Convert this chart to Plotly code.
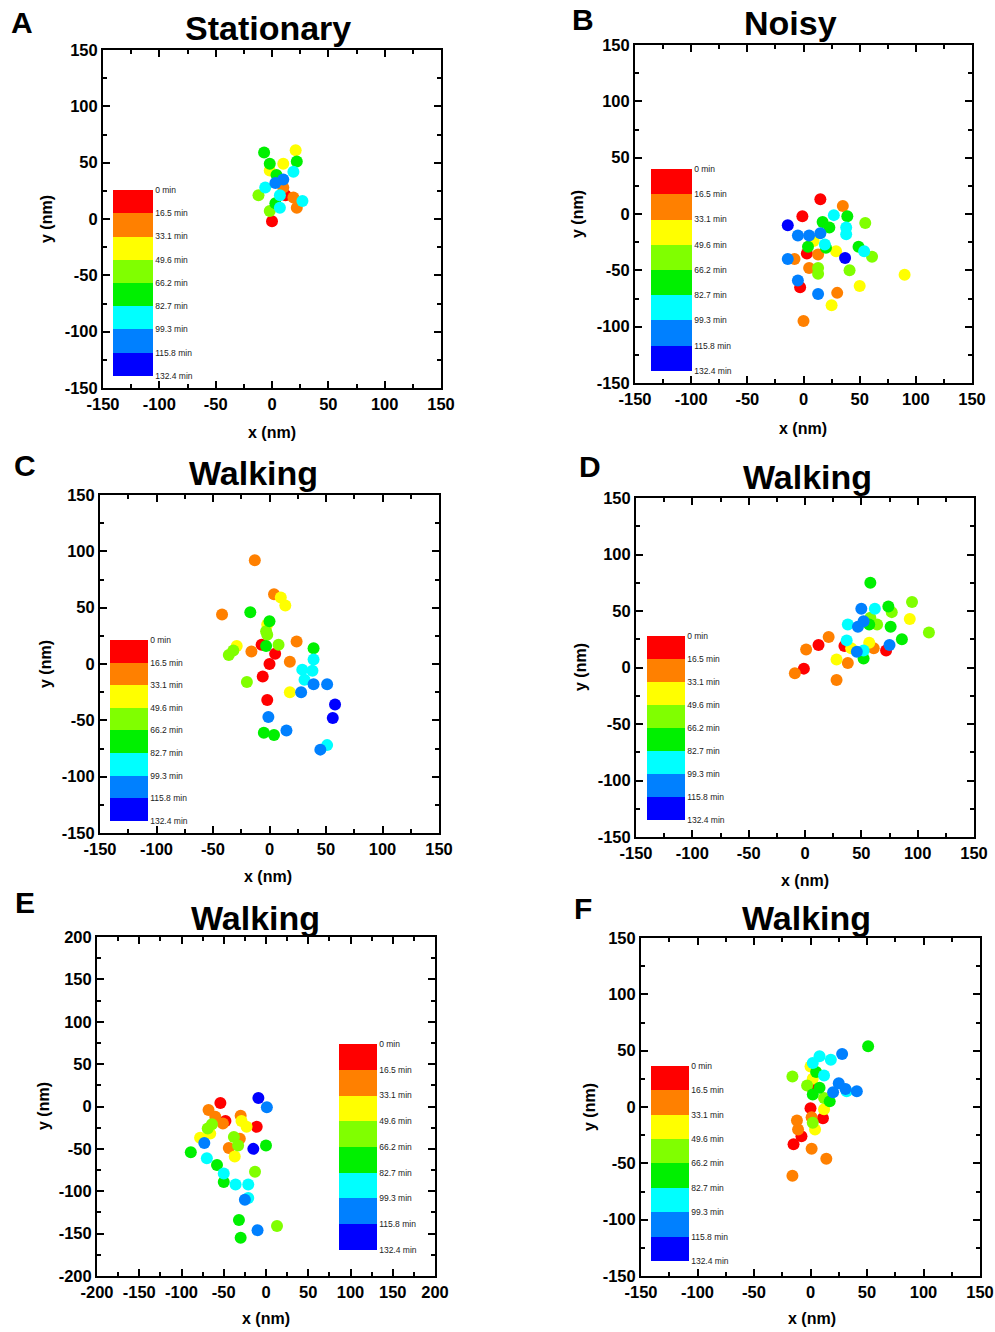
import plotly.graph_objects as go

# ---------------- data ----------------
# time bins: 0 red(0-16.5) 1 orange 2 yellow 3 yellow-green 4 green 5 cyan 6 blue 7 dark blue
bin_edges_min = [0, 16.5, 33.1, 49.6, 66.2, 82.7, 99.3, 115.8, 132.4]
bin_labels = ["0 min", "16.5 min", "33.1 min", "49.6 min", "66.2 min",
              "82.7 min", "99.3 min", "115.8 min", "132.4 min"]
bin_colors = ["#FF0000", "#FF8000", "#FFFF00", "#80FF00", "#00F000",
              "#00FFFF", "#0080FF", "#0000FF"]

ticks_150 = [-150, -100, -50, 0, 50, 100, 150]
ticks_200 = [-200, -150, -100, -50, 0, 50, 100, 150, 200]

A_x = [-7, 21, 10, -2, 22, -2, 19, 4, 3, 10, -6, 10, -12, 7, 12, 19, 27, 22, 3, 7, -2, 0]
A_y = [59, 61, 49, 49, 51, 43, 42, 39, 32, 35, 28, 28, 21, 21, 21, 19, 16, 10, 14, 10, 7, -2]
A_bin = [4, 2, 2, 4, 4, 2, 5, 4, 6, 6, 5, 1, 3, 5, 0, 1, 5, 1, 4, 5, 3, 0]

B_x = [15, 35, -1, 27, 39, -14, 17, 23, 55, 38, 38, -5, 5, 15, 9, 4, 19, 20, 3, 13,
       29, 49, 54, 61, 37, -14, -8, 5, 13, 13, 41, 90, -5, -3, 50, 13, 30, 25, 0]
B_y = [13, 7, -2, -1, -2, -10, -7, -12, -8, -12, -18, -19, -19, -17, -24, -29, -27, -30, -35, -36,
       -33, -29, -33, -38, -39, -40, -40, -48, -48, -53, -50, -54, -59, -65, -64, -71, -70, -81, -95]
B_bin = [0, 1, 0, 5, 4, 7, 4, 4, 3, 5, 5, 6, 6, 6, 2, 4, 5, 4, 0, 1,
         2, 4, 5, 3, 7, 6, 1, 1, 3, 3, 3, 2, 6, 0, 2, 6, 1, 2, 1]

C_x = [-13, 4, 10, 14, -42, -17, 0, -2, -3, -2, 24, 39, -29, -32, -36, -16, -7, -3, 8, 5,
       18, 39, 0, 29, 38, -6, 31, -20, 39, 51, 18, 28, -2, 58, 56, -1, -5, 4, 15, 51, 45]
C_y = [92, 62, 59, 52, 44, 46, 38, 35, 29, 26, 20, 14, 16, 12, 8, 11, 17, 16, 17, 9,
       2, 4, 0, -5, -6, -11, -14, -16, -18, -18, -25, -25, -32, -36, -48, -47, -61, -63, -59, -72, -76]
C_bin = [1, 1, 2, 2, 1, 4, 4, 2, 3, 3, 1, 4, 2, 3, 3, 1, 0, 4, 3, 0,
         1, 5, 0, 5, 5, 0, 5, 3, 6, 6, 2, 6, 0, 7, 7, 6, 4, 4, 6, 5, 6]

D_x = [58, 95, 50, 62, 74, 77, 58, 52, 47, 38, 57, 64, 76, 93, 110, 21, 12, 86, 37, 57,
       35, 41, 61, 75, 72, 52, 46, 52, 1, 28, 38, -1, -9, 28]
D_y = [75, 58, 52, 52, 54, 49, 44, 41, 36, 38, 38, 38, 36, 43, 31, 27, 20, 25, 24, 22,
       19, 17, 17, 20, 15, 15, 14, 8, 16, 7, 4, -1, -5, -11]
D_bin = [4, 3, 6, 5, 4, 3, 3, 6, 6, 5, 4, 3, 4, 2, 3, 1, 0, 4, 5, 2,
         0, 2, 1, 6, 0, 5, 6, 4, 1, 2, 1, 0, 1, 1]

E_x = [-54, -9, 1, -68, -60, -48, -51, -30, -29, -23, -11, -64, -69, -66, -78, -73, -38, -31, -33, -44,
       -15, 0, -37, -89, -70, -58, -50, -13, -50, -36, -21, -21, -25, -32, 13, -10, -30]
E_y = [4, 10, -1, -4, -12, -17, -20, -11, -17, -24, -24, -21, -26, -32, -37, -43, -36, -38, -46, -49,
       -50, -46, -59, -54, -61, -69, -79, -77, -89, -92, -92, -108, -110, -134, -141, -146, -155]
E_bin = [0, 7, 6, 1, 1, 0, 1, 1, 2, 2, 0, 3, 3, 2, 2, 6, 3, 1, 3, 1,
         7, 4, 2, 4, 5, 4, 5, 3, 4, 5, 5, 5, 6, 4, 3, 6, 4]

F_x = [51, 28, 8, 18, 2, 0, 5, 12, -16, 2, -3, 8, 2, 25, 31, 32, 41, 20, 2, 12,
       17, 0, 12, 11, 1, 2, -12, -11, 4, -8, -15, 1, 14, -16]
F_y = [54, 47, 45, 42, 39, 36, 31, 28, 27, 25, 19, 17, 16, 21, 16, 14, 14, 13, 11, 8,
       5, -1, -2, -10, -9, -14, -12, -20, -20, -26, -33, -37, -46, -61]
F_bin = [4, 6, 5, 5, 5, 2, 4, 5, 3, 2, 3, 4, 0, 6, 6, 5, 6, 6, 4, 3,
         4, 0, 2, 0, 1, 3, 1, 1, 2, 0, 0, 1, 1, 1]

titles = ["Stationary", "Noisy", "Walking", "Walking", "Walking", "Walking"]
letters = ["A", "B", "C", "D", "E", "F"]

# ---------------- layout geometry (pixels) ----------------
W, H = 995, 1332
panels = [
    dict(data=(A_x, A_y, A_bin), box=(103, 441, 50, 388), ticks=ticks_150, leg=(113, 190, 40, 186),
         tpos=(268, 28), lpos=(22, 22), xl=(272, 433), yl=(47, 219)),
    dict(data=(B_x, B_y, B_bin), box=(635, 972, 45, 383), ticks=ticks_150, leg=(651, 169, 41, 202),
         tpos=(790, 23), lpos=(583, 20), xl=(803, 429), yl=(578, 214)),
    dict(data=(C_x, C_y, C_bin), box=(100, 439, 495, 833), ticks=ticks_150, leg=(110, 640, 38, 181),
         tpos=(254, 473), lpos=(25, 465), xl=(268, 876), yl=(45, 664)),
    dict(data=(D_x, D_y, D_bin), box=(636, 974, 498, 837), ticks=ticks_150, leg=(647, 636, 38, 184),
         tpos=(807, 477), lpos=(590, 466), xl=(805, 880), yl=(581, 667)),
    dict(data=(E_x, E_y, E_bin), box=(97, 435, 937, 1276), ticks=ticks_200, leg=(339, 1044, 38, 206),
         tpos=(255, 918), lpos=(25, 902), xl=(266, 1318), yl=(43, 1106)),
    dict(data=(F_x, F_y, F_bin), box=(641, 980, 938, 1276), ticks=ticks_150, leg=(651, 1066, 38, 195),
         tpos=(806, 918), lpos=(583, 908), xl=(812, 1318), yl=(589, 1107)),
]

FONT = "Arial, Liberation Sans, sans-serif"
nb = len(bin_colors)
cmax_v = bin_edges_min[-1]

# discrete colorscale, value axis reversed so 0 min is on top
cscale = []
for k in range(nb):
    col = bin_colors[nb - 1 - k]
    cscale.append([k / nb, col])
    cscale.append([(k + 1) / nb, col])

fig = go.Figure()
layout = dict(width=W, height=H, margin=dict(l=0, r=0, t=0, b=0, autoexpand=False),
              paper_bgcolor="white", plot_bgcolor="white", showlegend=False,
              font=dict(family=FONT, color="black"))
annotations = []

for i, p in enumerate(panels):
    n = i + 1
    xs, ys, bins = p["data"]
    order = sorted(range(len(xs)), key=lambda j: bins[j])
    xv = [xs[j] for j in order]
    yv = [ys[j] for j in order]
    cv = [-(bin_edges_min[bins[j]] + bin_edges_min[bins[j] + 1]) / 2 for j in order]
    ca = "coloraxis" if n == 1 else f"coloraxis{n}"
    fig.add_trace(go.Scatter(
        x=xv, y=yv, mode="markers",
        xaxis="x" if n == 1 else f"x{n}", yaxis="y" if n == 1 else f"y{n}",
        marker=dict(size=12, color=cv, coloraxis=ca, line=dict(width=0), opacity=1),
        hoverinfo="skip"))

    l, r, t, b = p["box"]
    tv = p["ticks"]
    ax_common = dict(range=[tv[0], tv[-1]], tickmode="array", tickvals=tv,
                     ticktext=[str(v) for v in tv],
                     ticks="inside", ticklen=7,
                     tickwidth=2, tickcolor="black", showline=True, linewidth=2,
                     linecolor="black", mirror="allticks", showgrid=False, zeroline=False,
                     tickfont=dict(family=FONT, size=16.5, color="black", weight="bold"),
                     minor=dict(dtick=25, tick0=0, ticks="inside", ticklen=4, tickwidth=2,
                                tickcolor="black", showgrid=False),
                     fixedrange=True)
    xname = "xaxis" if n == 1 else f"xaxis{n}"
    yname = "yaxis" if n == 1 else f"yaxis{n}"
    layout[xname] = dict(ax_common, domain=[l / W, r / W],
                         anchor="y" if n == 1 else f"y{n}")
    layout[yname] = dict(ax_common, domain=[1 - b / H, 1 - t / H],
                         anchor="x" if n == 1 else f"x{n}")

    ll, lt, lw, lh = p["leg"]
    layout[ca] = dict(
        colorscale=cscale, cmin=-cmax_v, cmax=0,
        colorbar=dict(x=ll / W, xanchor="left", y=1 - lt / H, yanchor="top",
                      len=lh, lenmode="pixels", thickness=lw, thicknessmode="pixels",
                      xpad=0, ypad=0, outlinewidth=0,
                      tickvals=[-v for v in bin_edges_min], ticktext=bin_labels,
                      ticks="",
                      tickfont=dict(family=FONT, size=8.5, color="#222222")))

    annotations.append(dict(text=titles[i], x=p["tpos"][0] / W, y=1 - p["tpos"][1] / H,
                            xref="paper", yref="paper", xanchor="center", yanchor="middle",
                            showarrow=False,
                            font=dict(family=FONT, size=34, color="black", weight="bold")))
    annotations.append(dict(text=letters[i], x=p["lpos"][0] / W, y=1 - p["lpos"][1] / H,
                            xref="paper", yref="paper", xanchor="center", yanchor="middle",
                            showarrow=False,
                            font=dict(family=FONT, size=30, color="black", weight="bold")))
    annotations.append(dict(text="x (nm)", x=p["xl"][0] / W, y=1 - p["xl"][1] / H,
                            xref="paper", yref="paper", xanchor="center", yanchor="middle",
                            showarrow=False,
                            font=dict(family=FONT, size=16, color="black", weight="bold")))
    annotations.append(dict(text="y (nm)", x=p["yl"][0] / W, y=1 - p["yl"][1] / H,
                            xref="paper", yref="paper", xanchor="center", yanchor="middle",
                            showarrow=False, textangle=-90,
                            font=dict(family=FONT, size=16, color="black", weight="bold")))

layout["annotations"] = annotations
fig.update_layout(**layout)
fig.write_html("out.html")
